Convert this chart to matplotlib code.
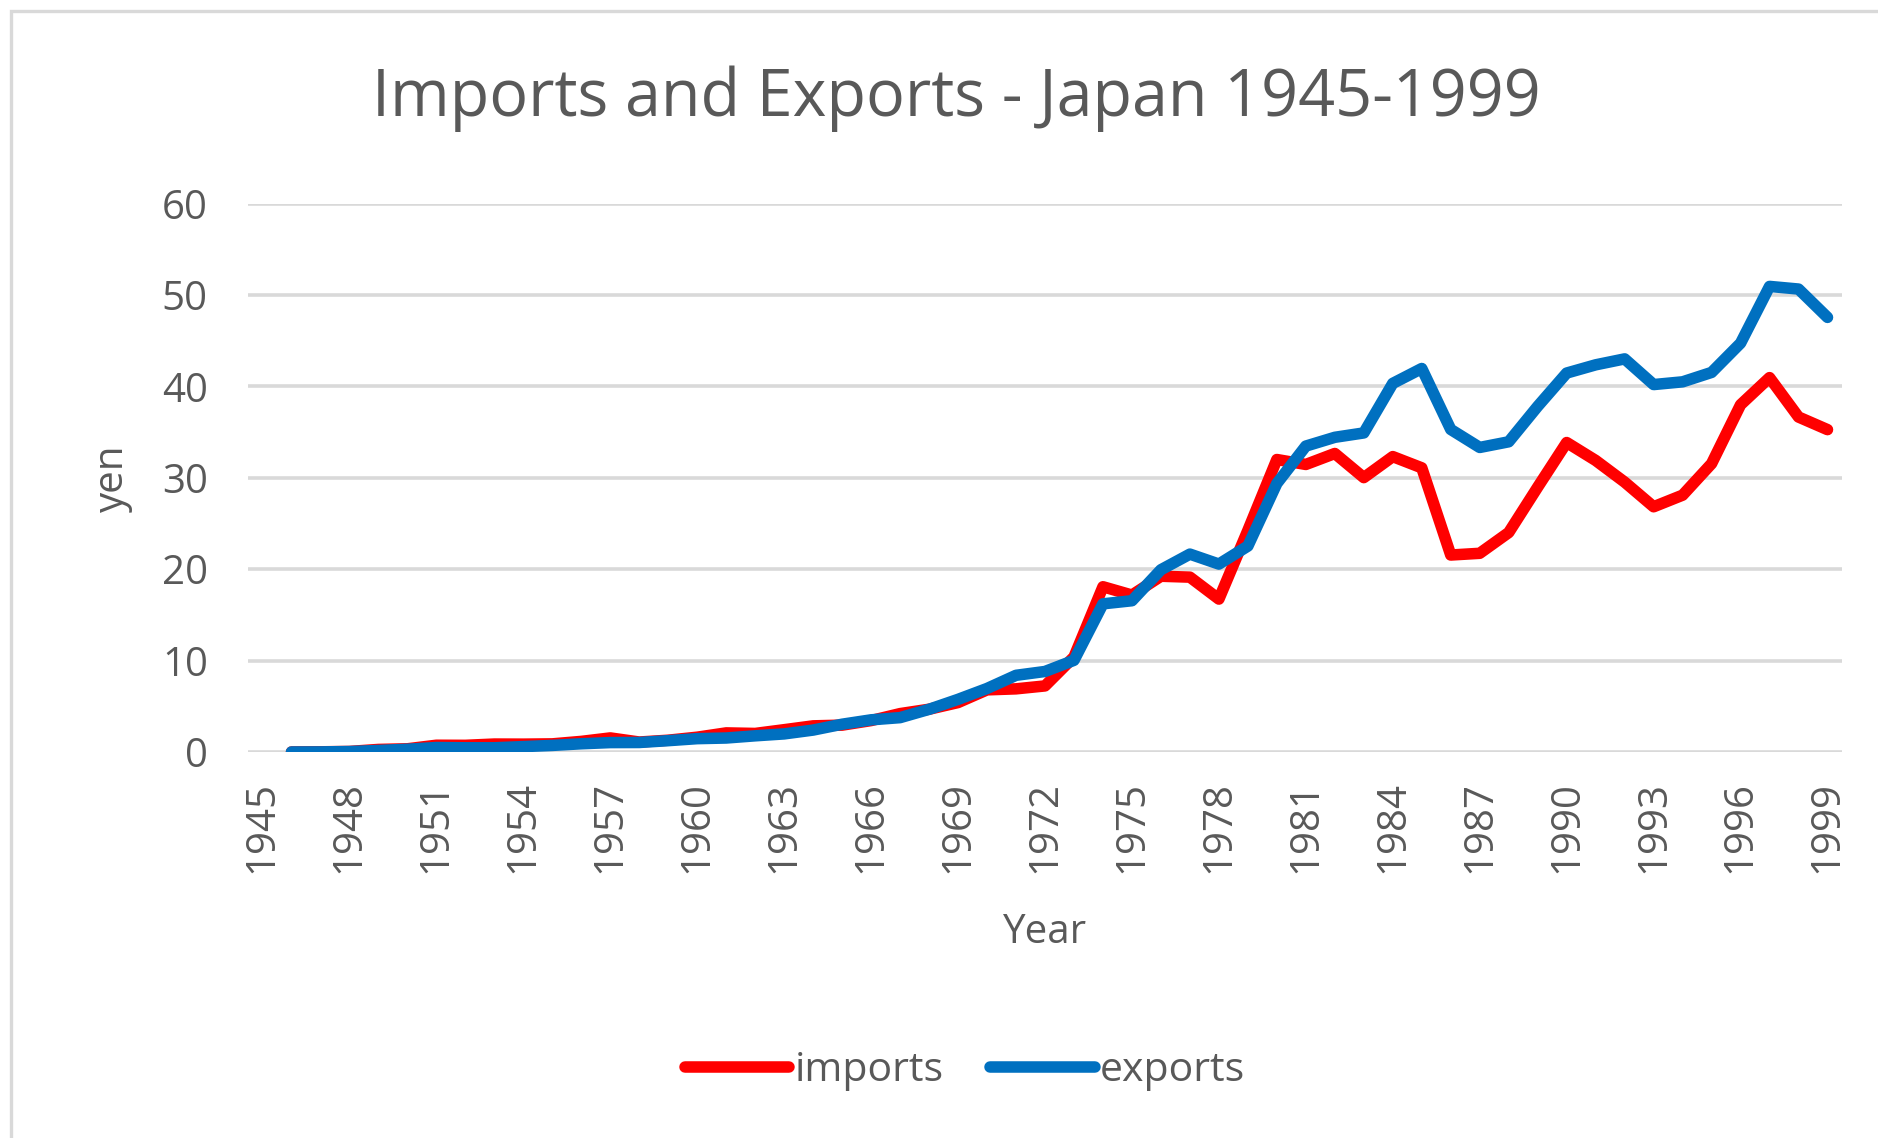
import matplotlib
matplotlib.use("Agg")
import matplotlib.pyplot as plt
from matplotlib.patches import Rectangle
import numpy as np

plt.rcParams['font.family'] = ['Open Sans', 'DejaVu Sans']

years = list(range(1946, 2000))
imports = [0.004, 0.02, 0.06, 0.28, 0.35, 0.74, 0.73, 0.87, 0.86, 0.89,
           1.16, 1.54, 1.09, 1.29, 1.62, 2.09, 2.03, 2.44, 2.86, 2.94,
           3.44, 4.20, 4.68, 5.41, 6.80, 6.91, 7.23, 10.40, 18.08, 17.17,
           19.23, 19.13, 16.73, 24.25, 32.00, 31.46, 32.66, 30.02, 32.32, 31.09,
           21.55, 21.74, 24.01, 28.98, 33.86, 31.90, 29.53, 26.83, 28.10, 31.55,
           37.99, 40.96, 36.65, 35.27]
exports = [0.002, 0.01, 0.05, 0.17, 0.30, 0.49, 0.46, 0.46, 0.59, 0.72,
           0.90, 1.03, 1.04, 1.24, 1.46, 1.53, 1.77, 1.98, 2.40, 3.04,
           3.52, 3.76, 4.67, 5.76, 6.95, 8.39, 8.81, 10.03, 16.21, 16.55,
           19.94, 21.65, 20.56, 22.53, 29.38, 33.47, 34.43, 34.91, 40.33, 41.96,
           35.29, 33.32, 33.94, 37.82, 41.46, 42.36, 43.01, 40.20, 40.50, 41.53,
           44.73, 50.94, 50.65, 47.55]
tick_years = list(range(1945, 2000, 3))
y_ticks = [0, 10, 20, 30, 40, 50, 60]

TXT = '#595959'
GRID = '#D9D9D9'
FS = 29
LW = 8.3

W, H = 1878, 1138
fig = plt.figure(figsize=(W / 100, H / 100), dpi=100)
fig.patch.set_facecolor('white')

# chart border (cropped at right and bottom)
fig.patches.append(Rectangle((11 / W, -0.1), 1.2, (H - 11) / H + 0.1,
                             transform=fig.transFigure, fill=False,
                             edgecolor=GRID, linewidth=2.4, zorder=0))

ax = fig.add_axes([248 / W, 1 - 752 / H, (1842 - 248) / W, (752 - 203.6) / H])
ax.plot(years, imports, color='#FF0000', linewidth=LW, label='imports',
        solid_joinstyle='round', solid_capstyle='round', zorder=3)
ax.plot(years, exports, color='#0070C0', linewidth=LW, label='exports',
        solid_joinstyle='round', solid_capstyle='round', zorder=4)

ax.set_xlim(1944.5, 1999.5)
ax.set_ylim(0, 60)
ax.set_yticks(y_ticks)
ax.set_xticks(tick_years)
ax.set_xticklabels([str(y) for y in tick_years], rotation=90)
for s in ax.spines.values():
    s.set_visible(False)
ax.yaxis.grid(True, color=GRID, linewidth=2.6, zorder=0)
ax.set_axisbelow(True)
ax.tick_params(axis='both', length=0, labelsize=FS, colors=TXT)
ax.tick_params(axis='y', pad=29)
ax.tick_params(axis='x', pad=21)

ax.set_xlabel('Year', fontsize=FS, color=TXT, labelpad=28)
ax.set_ylabel('yen', fontsize=FS, color=TXT, labelpad=21)

fig.text(956 / W, 1 - 99 / H, 'Imports and Exports - Japan 1945-1999',
         ha='center', va='center', fontsize=46.5, color=TXT)

leg = fig.legend(loc='center', bbox_to_anchor=(965 / W, 67 / H), ncol=2,
                 frameon=False, fontsize=29.5, handlelength=2.55,
                 handletextpad=0.12, columnspacing=1.15)
for t in leg.get_texts():
    t.set_color(TXT)
for l in leg.get_lines():
    l.set_linewidth(LW)
    l.set_solid_capstyle('round')

fig.savefig('out.png', dpi=100, facecolor='white')
